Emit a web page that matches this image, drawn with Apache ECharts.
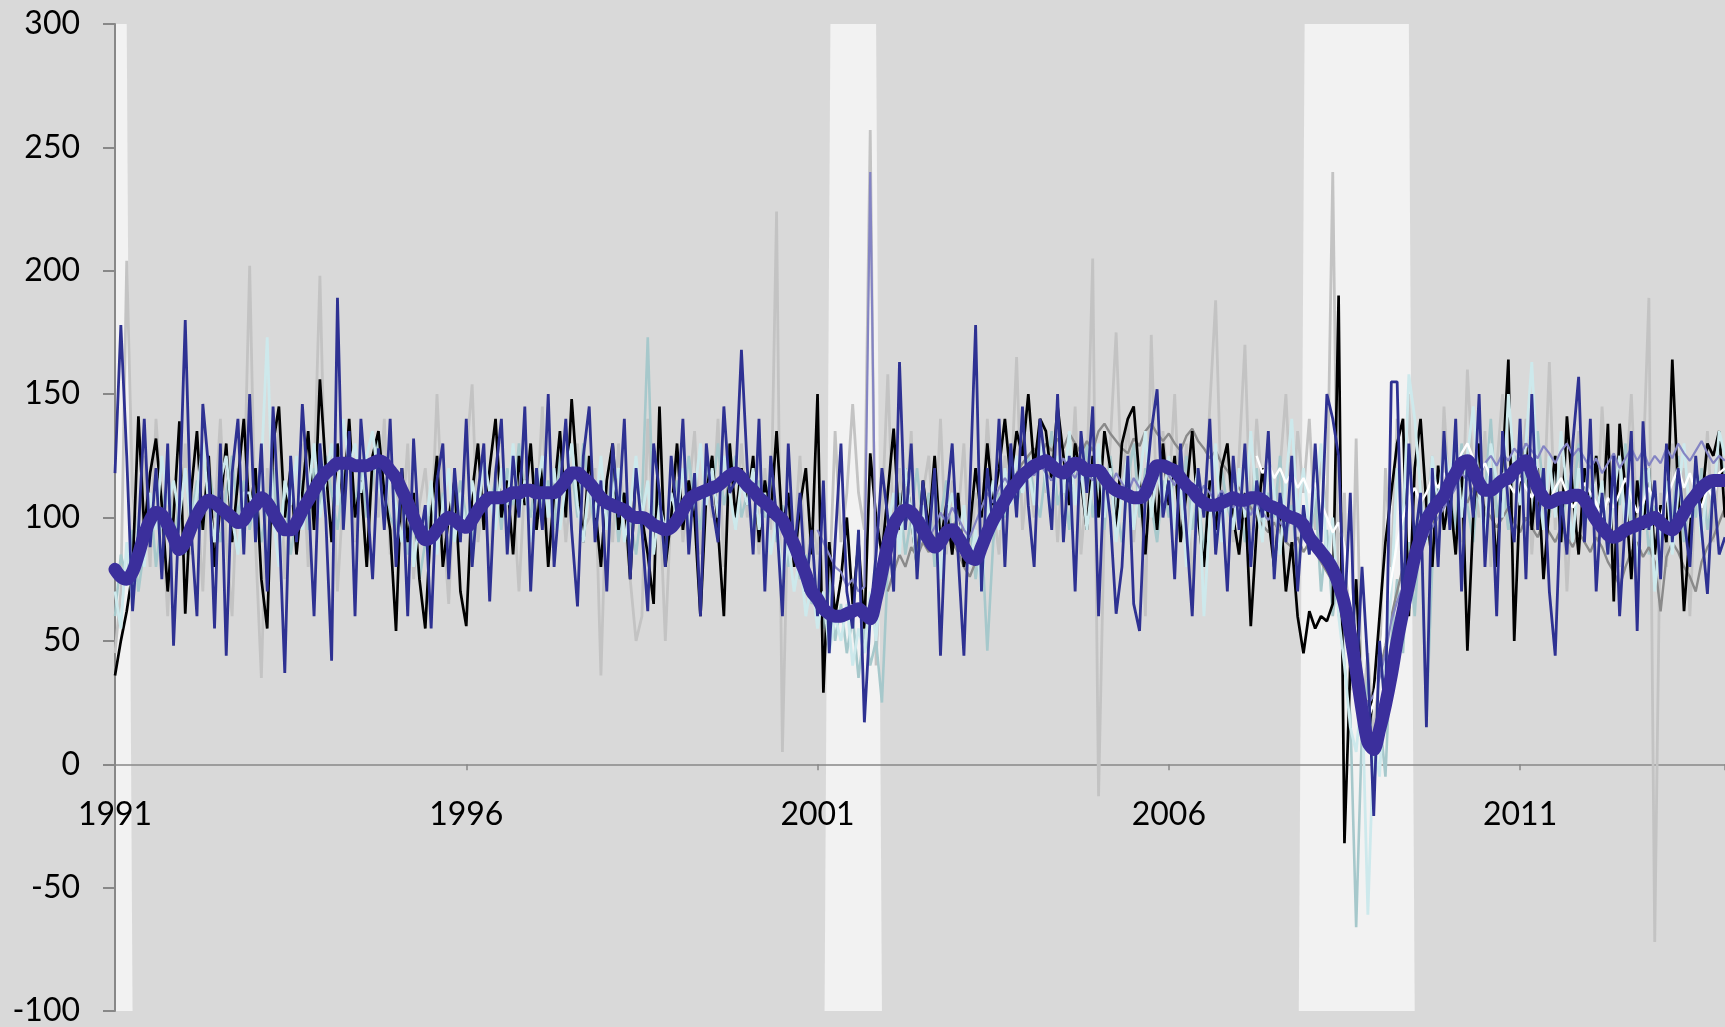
<!DOCTYPE html>
<html><head><meta charset="utf-8">
<script src="https://cdn.jsdelivr.net/npm/echarts@6/dist/echarts.min.js"></script>
<style>html,body{margin:0;padding:0;background:#d9d9d9;overflow:hidden}#c{width:1725px;height:1027px}</style>
</head><body><div id="c"></div><script>
// ---- data (monthly, Jan 1991 .. Dec 2013) ----
const startYear = 1991;
const xLabelYears = [1991, 1996, 2001, 2006, 2011];
const yMin = -100, yMax = 300, yStep = 50;
const recessionStart = ['1990-07', '2001-03', '2007-12'];
const recessionEnd   = ['1991-03', '2001-11', '2009-06'];

const navy = [
118,178,125,62,95,140,88,120,75,130,48,105,
180,95,60,146,120,55,130,44,118,140,85,150,
90,130,70,145,100,37,125,90,146,110,60,130,
100,42,189,95,135,60,140,110,75,128,95,140,
80,120,60,132,90,105,55,115,130,75,120,90,
140,80,110,130,66,118,140,85,125,100,145,70,
120,95,150,80,110,140,95,64,125,145,90,115,
70,130,100,140,75,120,95,62,130,110,80,125,
100,140,85,118,60,130,105,90,145,110,115,168,
120,85,140,70,125,100,60,130,85,110,70,95,
60,115,45,90,130,70,55,95,17,60,85,120,
100,70,163,95,130,75,115,90,120,44,105,130,
85,44,110,178,70,120,95,140,80,130,100,145,
105,80,140,120,95,150,90,125,70,135,110,145,
60,120,100,61,80,125,65,54,110,135,152,100,
115,75,130,95,60,120,100,140,85,110,70,125,
95,130,80,115,100,135,75,110,90,125,70,105,
85,130,90,150,140,125,60,110,30,80,40,-21,
50,20,155,155,60,130,90,110,15,120,80,135,
95,140,70,125,100,150,80,120,60,135,105,90,
140,75,150,95,120,70,44,110,85,130,157,90,
140,70,110,85,125,60,100,135,54,139,95,115,
75,130,90,120,100,80,125,95,69,115,85,92];

const black = [
36,50,62,78,141,95,118,132,105,70,100,139,
61,110,135,95,125,80,105,130,90,115,140,100,
120,75,55,130,145,100,120,85,110,135,95,156,
120,90,130,105,140,100,115,80,125,135,110,95,
54,120,90,110,75,55,100,125,80,100,115,70,
56,110,130,95,120,140,100,115,85,125,105,130,
95,120,80,110,135,100,148,115,90,125,105,80,
115,130,95,110,75,120,100,85,65,145,80,100,
130,95,115,100,60,110,125,95,60,130,100,120,
105,125,90,115,100,135,95,110,80,105,120,85,
150,29,90,60,75,100,65,90,55,126,100,85,
110,136,95,120,100,80,115,95,125,90,105,85,
110,80,95,120,100,130,105,120,140,115,135,125,
150,120,140,135,115,145,125,105,130,115,95,125,
100,135,120,95,130,140,145,115,85,120,95,130,
105,125,90,110,135,100,80,115,95,120,130,100,
85,110,56,95,120,100,80,105,70,90,60,45,
62,55,60,58,65,190,-32,40,75,20,10,30,
60,90,110,130,140,60,120,140,105,80,121,95,
110,85,125,46,100,130,95,115,80,120,164,50,
110,130,95,120,75,105,125,90,141,110,85,120,
100,125,95,138,66,138,110,75,115,95,120,85,
105,90,164,110,62,95,120,105,130,125,135,100];

const lightGray = [
45,70,204,110,90,125,80,140,105,60,115,95,
130,85,110,70,125,100,140,90,60,120,105,202,
90,35,120,100,140,75,110,95,130,80,115,198,
100,125,70,110,135,90,115,80,120,100,140,85,
110,95,130,75,105,120,90,150,100,65,115,95,
125,154,90,110,80,120,135,95,110,70,115,130,
100,145,85,110,125,90,115,130,95,100,120,36,
115,90,130,100,75,50,60,140,95,110,50,105,
125,90,110,135,85,115,100,140,80,120,95,130,
100,115,85,120,95,224,5,110,90,125,75,100,
85,110,70,135,90,110,146,110,95,257,40,100,
158,90,120,100,135,75,110,125,90,140,85,115,
100,130,80,110,95,140,105,85,125,110,165,95,
120,100,140,110,130,90,125,105,145,85,115,205,
-13,100,130,175,110,140,90,120,60,174,100,135,
110,150,95,130,69,120,100,145,188,105,130,90,
125,170,95,140,110,130,85,120,150,100,135,110,
140,95,125,100,240,60,110,30,132,20,45,10,
40,120,80,140,95,150,70,115,100,125,85,145,
105,130,90,160,115,100,135,80,120,150,95,125,
110,140,85,120,100,163,95,125,70,115,135,100,
120,90,145,105,125,80,110,150,95,120,189,-72,
110,80,130,95,120,60,115,100,135,90,125,110];

const lightCyan = [
70,55,90,65,100,80,110,95,125,105,115,100,
120,95,110,130,105,90,115,125,100,85,110,110,
95,120,173,100,80,115,105,125,95,110,130,100,
115,130,105,140,120,130,110,125,135,115,100,120,
105,90,110,80,100,95,115,85,105,120,90,110,
95,115,100,125,110,95,120,105,130,100,115,90,
110,125,100,120,95,115,130,105,90,115,100,125,
95,110,120,90,105,125,100,115,85,105,95,110,
100,120,95,110,130,105,120,100,125,110,95,115,
105,120,95,110,85,100,75,90,70,85,60,75,
55,70,45,60,50,65,40,55,45,70,50,80,
95,110,85,120,100,80,105,90,115,75,100,110,
90,105,80,95,70,100,115,95,120,105,125,110,
120,105,130,115,100,125,110,135,105,120,95,115,
130,100,120,90,110,125,95,115,135,100,120,105,
125,95,115,80,105,120,60,100,130,90,110,95,
120,100,135,105,90,125,110,85,115,140,100,120,
95,110,130,80,100,60,40,15,5,30,-61,10,
-5,40,70,120,95,158,140,110,90,125,105,130,
115,135,100,125,145,110,90,130,115,100,150,120,
105,130,163,115,95,125,100,135,110,90,120,105,
130,100,115,85,110,125,95,115,80,105,120,70,
95,115,85,110,130,100,120,90,115,105,135,125];

const tealGray = [
60,85,75,95,70,88,110,80,100,120,90,105,
85,100,115,95,120,105,90,110,125,100,115,95,
110,90,105,120,95,110,85,100,115,95,120,105,
125,110,95,115,130,105,120,100,115,135,110,100,
95,110,85,100,75,90,105,95,110,85,100,115,
100,90,110,125,105,115,95,120,105,130,110,100,
120,105,115,95,125,110,120,100,130,110,95,115,
100,120,90,110,100,85,105,173,95,110,85,100,
115,100,125,105,95,120,110,130,105,115,125,100,
110,95,115,100,120,90,105,80,95,75,85,65,
70,55,75,50,65,45,60,35,55,40,50,25,
80,95,110,85,100,120,95,110,80,100,115,90,
105,85,100,75,95,46,90,110,100,120,105,115,
125,110,100,120,135,105,115,95,125,110,130,100,
115,95,125,105,90,115,130,100,120,105,90,115,
100,120,105,125,95,110,85,115,100,120,105,95,
110,90,105,120,95,110,100,125,90,105,80,100,
85,110,70,95,60,80,40,20,-66,15,35,-10,
20,-5,50,75,45,90,60,100,18,80,115,95,
110,95,130,105,90,120,110,140,100,115,95,125,
105,120,95,135,110,100,125,90,115,105,130,95,
110,125,100,90,115,105,130,95,110,120,85,105,
95,115,100,125,90,110,100,120,95,110,130,115];

const lavenderStart = 120; // Jan 2001
const lavender = [
95,90,85,80,78,72,75,70,72,240,68,80,
95,100,105,98,102,95,100,92,96,102,98,104,
100,95,92,98,104,110,106,112,116,112,118,115,
120,117,122,118,115,120,124,119,116,121,118,115,
120,116,112,118,114,110,116,112,108,115,118,121,
117,113,119,115,111,108,113,110,106,111,107,104,
108,104,101,106,102,99,103,98,95,100,96,92,
96,90,86,82,78,70,60,50,40,30,24,28,
35,45,58,66,72,80,84,88,92,96,100,104,
108,112,118,115,120,116,122,125,121,126,123,128,
125,130,127,124,129,126,122,127,130,125,128,124,
120,124,118,122,126,120,124,128,123,127,121,125,
122,128,124,130,126,123,127,131,126,122,125,123];

const midGrayStart = 132; // Jan 2002
const midGray = [
70,78,85,80,88,84,90,86,92,88,95,90,
86,80,76,82,88,94,100,106,110,114,118,122,
125,128,124,130,127,132,128,134,130,126,131,127,
135,138,134,131,128,126,132,129,135,138,134,131,
134,130,127,133,136,131,128,124,127,122,119,115,
112,108,104,100,97,94,98,94,90,88,92,86,
90,86,82,78,74,66,55,45,35,28,25,30,
38,48,60,70,80,85,92,96,100,104,108,110,
112,116,110,106,112,108,104,100,96,100,104,98,
94,100,96,92,98,94,90,96,92,88,94,90,
86,92,88,82,78,72,80,86,90,84,88,82,
62,84,90,86,80,76,70,82,88,92,98,104];

const whiteStart = 195; // Apr 2007
const white = [
125,118,122,116,120,114,118,112,116,
110,114,106,100,94,98,88,70,50,30,18,25,
40,60,75,90,100,108,112,106,110,116,112,118,
114,120,126,130,124,118,122,116,112,118,114,110,
116,112,108,114,110,106,112,116,110,104,108,114,
110,106,100,108,104,110,116,108,102,106,112,106,
100,108,114,120,112,118,110,104,112,108,118,120];

const average = [
79,76,75,78,85,93,99,102,101,97,92,87,
90,96,101,105,107,106,104,102,100,98,99,103,
105,108,106,102,98,95,95,98,103,107,111,115,
118,120,122,122,122,121,121,121,122,123,122,119,
116,111,106,100,95,91,92,95,98,100,99,97,
96,99,103,106,108,108,108,109,110,110,111,111,
110,110,110,110,112,115,118,118,116,114,111,108,
106,105,104,103,101,100,100,99,97,96,95,96,
99,103,107,109,110,111,112,113,115,117,118,116,
113,111,108,106,104,101,99,94,89,83,77,70,
67,63,61,60,60,61,62,63,61,59,67,78,
89,97,101,103,102,99,95,91,88,90,94,95,
92,88,84,83,88,94,99,103,107,111,114,117,
119,121,122,123,121,119,118,120,122,121,119,119,
119,116,113,111,110,109,108,108,110,116,121,121,
120,119,116,113,111,108,106,105,105,106,107,108,
107,107,108,108,107,105,104,103,101,100,99,97,
92,89,86,83,79,73,65,53,38,22,9,6,
14,24,36,50,62,73,84,92,99,103,106,109,
114,118,122,123,119,114,111,111,113,115,116,119,
121,123,118,112,108,106,107,108,108,109,109,107,
103,99,96,93,92,93,95,96,97,98,99,100,
98,96,95,98,102,106,109,112,114,115,115,115];

// ---- build ----
const nMonths = average.length;
const monthIdx = s => { const [y, m] = s.split('-').map(Number); return (y - startYear) * 12 + (m - 1); };
const pts = (arr, off) => arr.map((v, i) => [i + (off || 0), v]);

const series = [];
recessionStart.forEach((st, k) => {
  const s = monthIdx(st), e = monthIdx(recessionEnd[k]);
  const left = s <= 0 ? [[0, yMax]] : [[s - 0.8, yMin], [s + 0.2, yMax]];
  const data = left.concat([[e, yMax], [e + 1, yMin]]);
  series.push({ type: 'line', data, symbol: 'none', silent: true, z: 1,
    lineStyle: { width: 0, color: '#f2f2f2' },
    areaStyle: { color: '#f2f2f2', opacity: 1, origin: 'start' } });
});
function noise(arr, off, color, width) {
  series.push({ type: 'line', data: pts(arr, off), symbol: 'none', z: 5, silent: true,
    lineStyle: { color, width }, connectNulls: false });
}
noise(lightGray, 0, '#c3c3c3', 2.8);
noise(tealGray, 0, '#a6c8cb', 2.6);
noise(midGray, midGrayStart, '#8a8a8a', 2.4);
noise(black, 0, '#000000', 2.7);
noise(lightCyan, 0, '#cde9ec', 2.8);
noise(lavender, lavenderStart, '#8484c3', 2.2);
noise(white, whiteStart, '#ffffff', 2.4);
noise(navy, 0, '#2e3192', 2.8);
series.push({ type: 'line', data: pts(average, 0), symbol: 'none', smooth: 0.3, z: 6, silent: true,
  lineStyle: { color: '#3b2f9c', width: 13, cap: 'round', join: 'round' } });

const font = 'Lato, "Open Sans", sans-serif';
const gridTop = 24, gridBottom = 16, H = 1027;
const zeroOffset = -(H - gridTop - gridBottom) * (0 - yMin) / (yMax - yMin);
const chart = echarts.init(document.getElementById('c'), null, { renderer: 'canvas' });
const xBase = { type: 'value', min: 0, max: nMonths - 1, interval: 60, splitLine: { show: false } };
chart.setOption({
  animation: false,
  backgroundColor: '#d9d9d9',
  grid: { left: 115, right: 0, top: gridTop, bottom: gridBottom, containLabel: false, outerBoundsMode: 'none' },
  xAxis: [
    Object.assign({}, xBase, { z: 3,
      axisLine: { onZero: true, lineStyle: { color: '#888888', width: 1.5 } },
      axisTick: { show: true, length: 6, lineStyle: { color: '#888888', width: 1.5 } },
      axisLabel: { show: false } }),
    Object.assign({}, xBase, { z: 3, position: 'bottom', offset: zeroOffset,
      axisLine: { show: false, onZero: false },
      axisTick: { show: false },
      axisLabel: { margin: 34, fontSize: 32, color: '#000', fontFamily: font,
        formatter: v => { const y = startYear + v / 12; return xLabelYears.includes(y) ? String(y) : ''; } } })
  ],
  yAxis: {
    type: 'value', min: yMin, max: yMax, interval: yStep, z: 3,
    axisLine: { show: true, onZero: false, lineStyle: { color: '#888888', width: 2 } },
    axisTick: { show: true, length: 12, lineStyle: { color: '#888888', width: 2 } },
    axisLabel: { margin: 35, fontSize: 32, color: '#000', fontFamily: font },
    splitLine: { show: false }
  },
  series
});
</script></body></html>
